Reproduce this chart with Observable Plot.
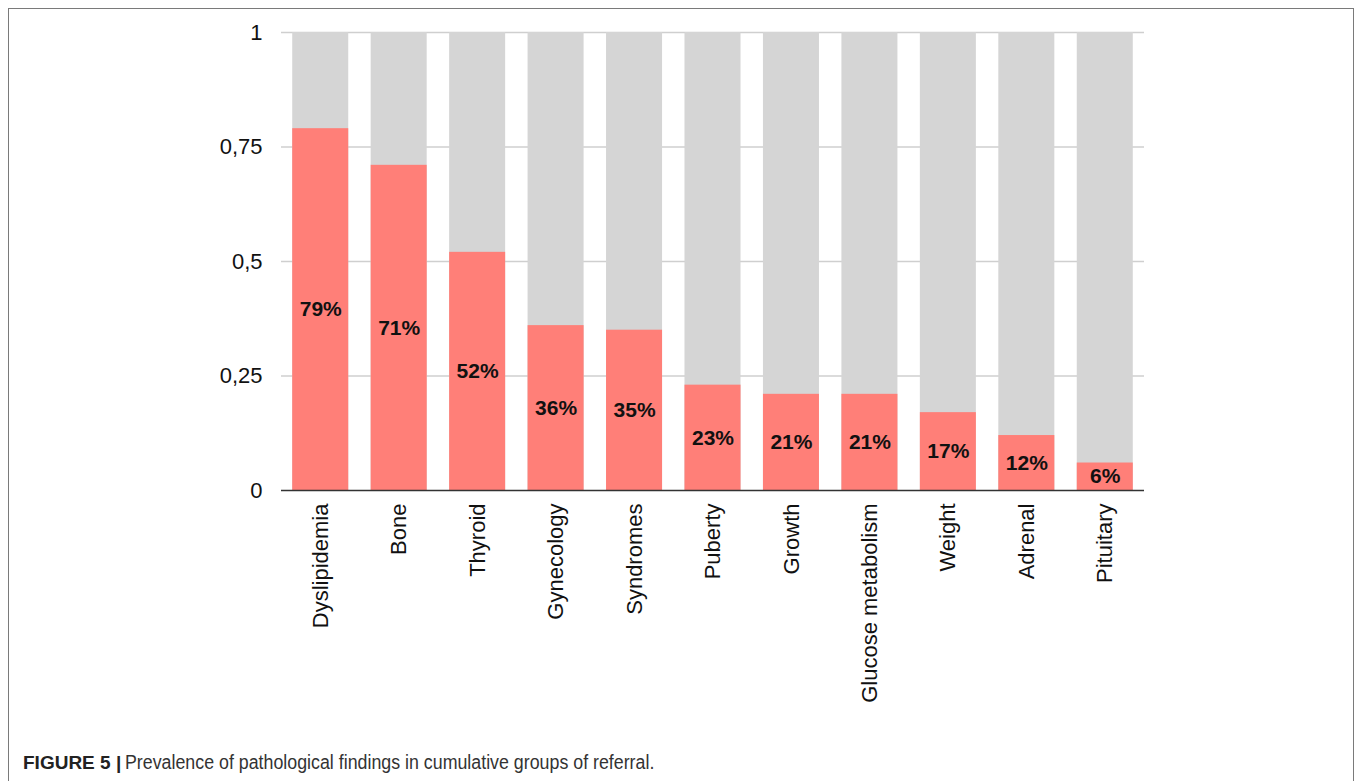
<!DOCTYPE html>
<html>
<head>
<meta charset="utf-8">
<script src="https://cdn.jsdelivr.net/npm/d3@7"></script>
<script src="https://cdn.jsdelivr.net/npm/@observablehq/plot@0.6"></script>
<style>
  html, body { margin: 0; padding: 0; background: #fff; width: 1358px; height: 781px; overflow: hidden; }
  #frame { position: absolute; left: 8px; top: 8px; width: 1346px; height: 800px; border: 1.5px solid #7a7a7a; box-sizing: border-box; }
  #chart { position: absolute; left: 0; top: 0; }
  #caption { position: absolute; left: 23px; top: 751px; font-family: "Liberation Sans", Arial, sans-serif; font-size: 19px; color: #222; white-space: nowrap; }
  #caption b { font-weight: bold; }
  #caption .rest { display: inline-block; font-size: 20px; color: #333; transform: scaleX(0.89); transform-origin: left center; margin-left: 4px; }
</style>
</head>
<body>
<div id="frame"></div>
<div id="chart"></div>
<div id="caption"><b>FIGURE 5 |</b><span class="rest">Prevalence of pathological findings in cumulative groups of referral.</span></div>
<script>
const categories = ["Dyslipidemia", "Bone", "Thyroid", "Gynecology", "Syndromes", "Puberty", "Growth", "Glucose metabolism", "Weight", "Adrenal", "Pituitary"];
const prevalence = [0.79, 0.71, 0.52, 0.36, 0.35, 0.23, 0.21, 0.21, 0.17, 0.12, 0.06];
const totals = [1, 1, 1, 1, 1, 1, 1, 1, 1, 1, 1];
const yTicks = [0, 0.25, 0.5, 0.75, 1];

const data = categories.map((c, i) => ({cat: c, value: prevalence[i], total: totals[i]}));

const chart = Plot.plot({
  width: 1358,
  height: 730,
  marginLeft: 281,
  marginRight: 214,
  marginTop: 32,
  marginBottom: 240,
  style: {fontFamily: "'Liberation Sans', Arial, Helvetica, sans-serif", fontSize: "22px", color: "#111", background: "transparent"},
  x: {domain: categories, paddingInner: 0.286, paddingOuter: 0.143, round: false, label: null},
  y: {domain: [0, 1], label: null},
  marks: [
    Plot.ruleY(yTicks.slice(1), {stroke: "#cfcfcf", strokeWidth: 1.5}),
    Plot.barY(data, {x: "cat", y: "total", fill: "#d5d5d5"}),
    Plot.barY(data, {x: "cat", y: "value", fill: "#ff7f78"}),
    Plot.text(data, {x: "cat", y: d => d.value / 2, text: d => Math.round(d.value * 100) + "%", fontWeight: "bold", fontSize: 21, fill: "#111"}),
    Plot.ruleY([0], {stroke: "#333", strokeWidth: 1.5}),
    Plot.axisY({ticks: yTicks, tickSize: 0, tickPadding: 19, tickFormat: d => String(d).replace(".", ","), fontSize: 22, label: null}),
    Plot.axisX({tickSize: 0, tickRotate: -90, tickPadding: 13, fontSize: 22, label: null})
  ]
});
document.getElementById("chart").appendChild(chart);
</script>
</body>
</html>
